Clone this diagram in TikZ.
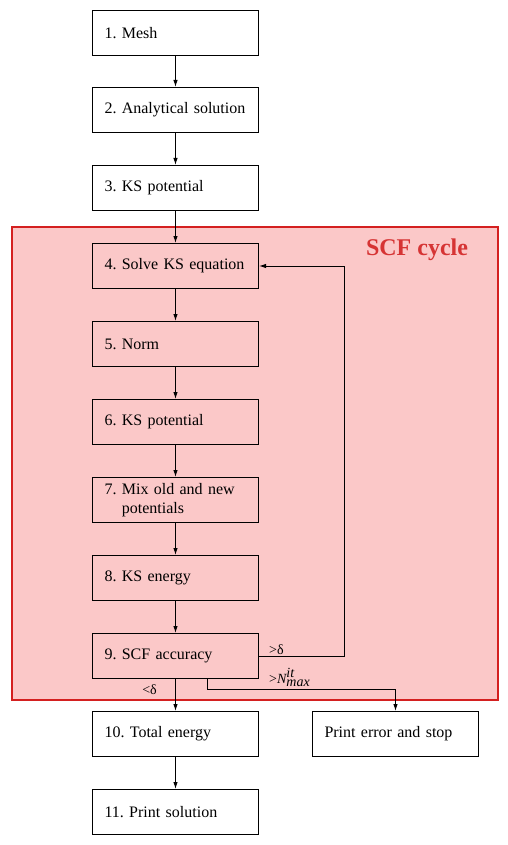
\documentclass[tikz,border=0pt]{standalone}
\usepackage{fontspec}
\setmainfont{Liberation Serif}
\usetikzlibrary{arrows.meta}
\definecolor{scfpink}{RGB}{251,200,200}
\definecolor{scfred}{RGB}{212,32,32}
\definecolor{scftext}{RGB}{214,52,52}
\hyphenpenalty=10000
\exhyphenpenalty=10000
\frenchspacing
\begin{document}
\begin{tikzpicture}[x=1pt,y=-1pt,
  box/.style={draw,line width=1pt,minimum width=166pt,minimum height=45pt,text width=142pt,align=left,inner sep=0pt,font=\fontsize{16}{19}\selectfont,anchor=north west},
  arr/.style={-{Latex[length=7pt,width=4.5pt]},line width=1pt},
  lbl/.style={font=\fontsize{14}{16}\selectfont,inner sep=1pt}]
\useasboundingbox (0,0) rectangle (507,845);
\node[draw=scfred,fill=scfpink,line width=1.5pt,minimum width=486pt,minimum height=473pt,anchor=north west,inner sep=0pt] (cycle) at (11,226) {};
\node[font=\fontsize{24}{27}\selectfont\bfseries,text=scftext] (title) at (417,250) {SCF cycle};
\node[box] (b1) at (92,10) {1. Mesh};
\node[box] (b2) at (92,87) {2. Analytical solution};
\node[box] (b3) at (92,165) {3. KS potential};
\node[box] (b4) at (92,243) {4. Solve KS equation};
\node[box] (b5) at (92,321) {5. Norm};
\node[box] (b6) at (92,399) {6. KS potential};
\node[box] (b7) at (92,477) {7. Mix old and new\\\phantom{7. }potentials};
\node[box] (b8) at (92,555) {8. KS energy};
\node[box] (b9) at (92,633) {9. SCF accuracy};
\node[box] (b10) at (92,711) {10. Total energy};
\node[box] (b11) at (92,789) {11. Print solution};
\node[box] (err) at (312,711) {Print error and stop};
\draw[arr] (b1) -- (b2);
\draw[arr] (b2) -- (b3);
\draw[arr] (b3) -- (b4);
\draw[arr] (b4) -- (b5);
\draw[arr] (b5) -- (b6);
\draw[arr] (b6) -- (b7);
\draw[arr] (b7) -- (b8);
\draw[arr] (b8) -- (b9);
\draw[arr] (b9) -- (b10);
\draw[arr] (b10) -- (b11);
\draw[arr] (b9.east) -- ++(85,0) |- (b4.east);
\draw[arr] ([xshift=32pt]b9.south) -- ++(0,10) -| (err.north);
\node[lbl,anchor=south west] (gt) at (268,656) {>δ};
\node[lbl,anchor=east] (lt) at (158,690) {<δ};
\node[lbl,anchor=south west] (nmax) at (268,688) {>$\textit{N}^{\textit{it}}_{\textit{max}}$};
\end{tikzpicture}
\end{document}
